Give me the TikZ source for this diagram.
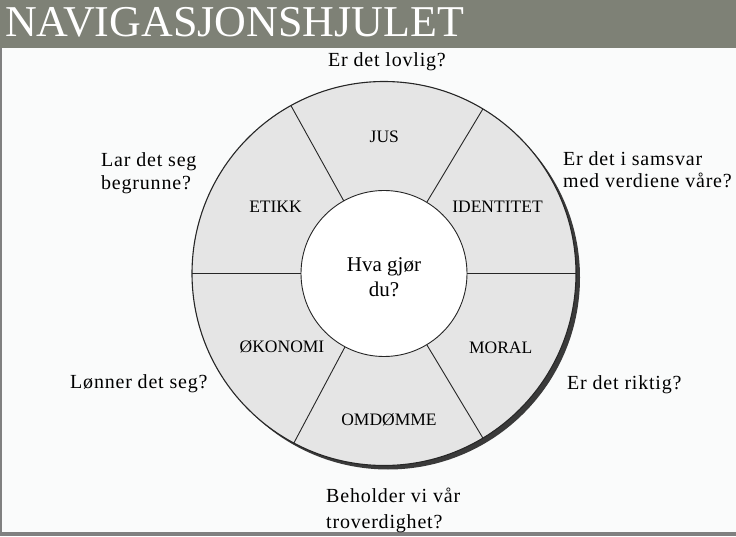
\documentclass[tikz,border=0pt]{standalone}
\usepackage{fontspec}
\setmainfont{Liberation Serif}
\definecolor{titlegray}{RGB}{126,129,118}
\definecolor{pagebg}{RGB}{250,251,251}
\definecolor{ringfill}{RGB}{229,229,229}
\definecolor{shadowc}{RGB}{58,58,58}
\definecolor{framec}{RGB}{128,128,128}
\begin{document}
\begin{tikzpicture}[x=1pt,y=1pt,
  seg/.style={draw=black!85, line width=0.9pt},
  question/.style={font=\fontsize{20}{22.5}\selectfont\addfontfeature{LetterSpace=4}, align=left, inner sep=0pt},
  part/.style={font=\fontsize{17.5}{20}\selectfont, inner sep=0pt, anchor=base}]
\useasboundingbox (0,0) rectangle (736,536);
\fill[pagebg] (0,0) rectangle (736,536);
\fill[titlegray] (0,488) rectangle (736,536);
\fill[framec] (0,0) rectangle (2,488);
\fill[framec] (0,0) rectangle (736,4);
\node[anchor=base west, text=white, font=\fontsize{44}{44}\selectfont, inner sep=0pt] (title) at (5,499) {NAVIGASJONSHJULET};
% wheel
\coordinate (C) at (384,262.5);
\fill[shadowc] ([shift={(4,-4)}]C) circle (192);
\fill[ringfill] (C) circle (192);
\draw[line width=1.1pt, draw=black!85] (C) circle (192);
\foreach \a in {0,59,119,180,242,301}
  \draw[seg] ([shift={(\a:83)}]C) -- ([shift={(\a:192)}]C);
\fill[white] (C) circle (83);
\draw[seg] (C) circle (83);
% ring labels
\node[part] (jus) at (384.3,393.3) {JUS};
\node[part] (etikk) at (275.5,323.3) {ETIKK};
\node[part] (ident) at (497.5,323.3) {IDENTITET};
\node[part] (okon) at (282,183) {ØKONOMI};
\node[part] (moral) at (500.7,182.7) {MORAL};
\node[part] (omd) at (389,110.3) {OMDØMME};
% centre
\node[font=\fontsize{21}{25}\selectfont, align=center, inner sep=0pt, anchor=north] (hub) at (384,278.3) {Hva gjør\\du?};
% questions
\node[question, anchor=base] (q1) at (387,469) {Er det lovlig?};
\node[question, anchor=north west] (q2) at (101,383.5) {Lar det seg\\begrunne?};
\node[question, anchor=north west] (q3) at (563,384.7) {Er det i samsvar\\med verdiene våre?};
\node[question, anchor=base west] (q4) at (70,148) {Lønner det seg?};
\node[question, anchor=base west] (q5) at (567,147) {Er det riktig?};
\node[question, anchor=north west, font=\fontsize{20}{26.5}\selectfont\addfontfeature{LetterSpace=4}] (q6) at (326,48.5) {Beholder vi vår\\troverdighet?};
\end{tikzpicture}
\end{document}
